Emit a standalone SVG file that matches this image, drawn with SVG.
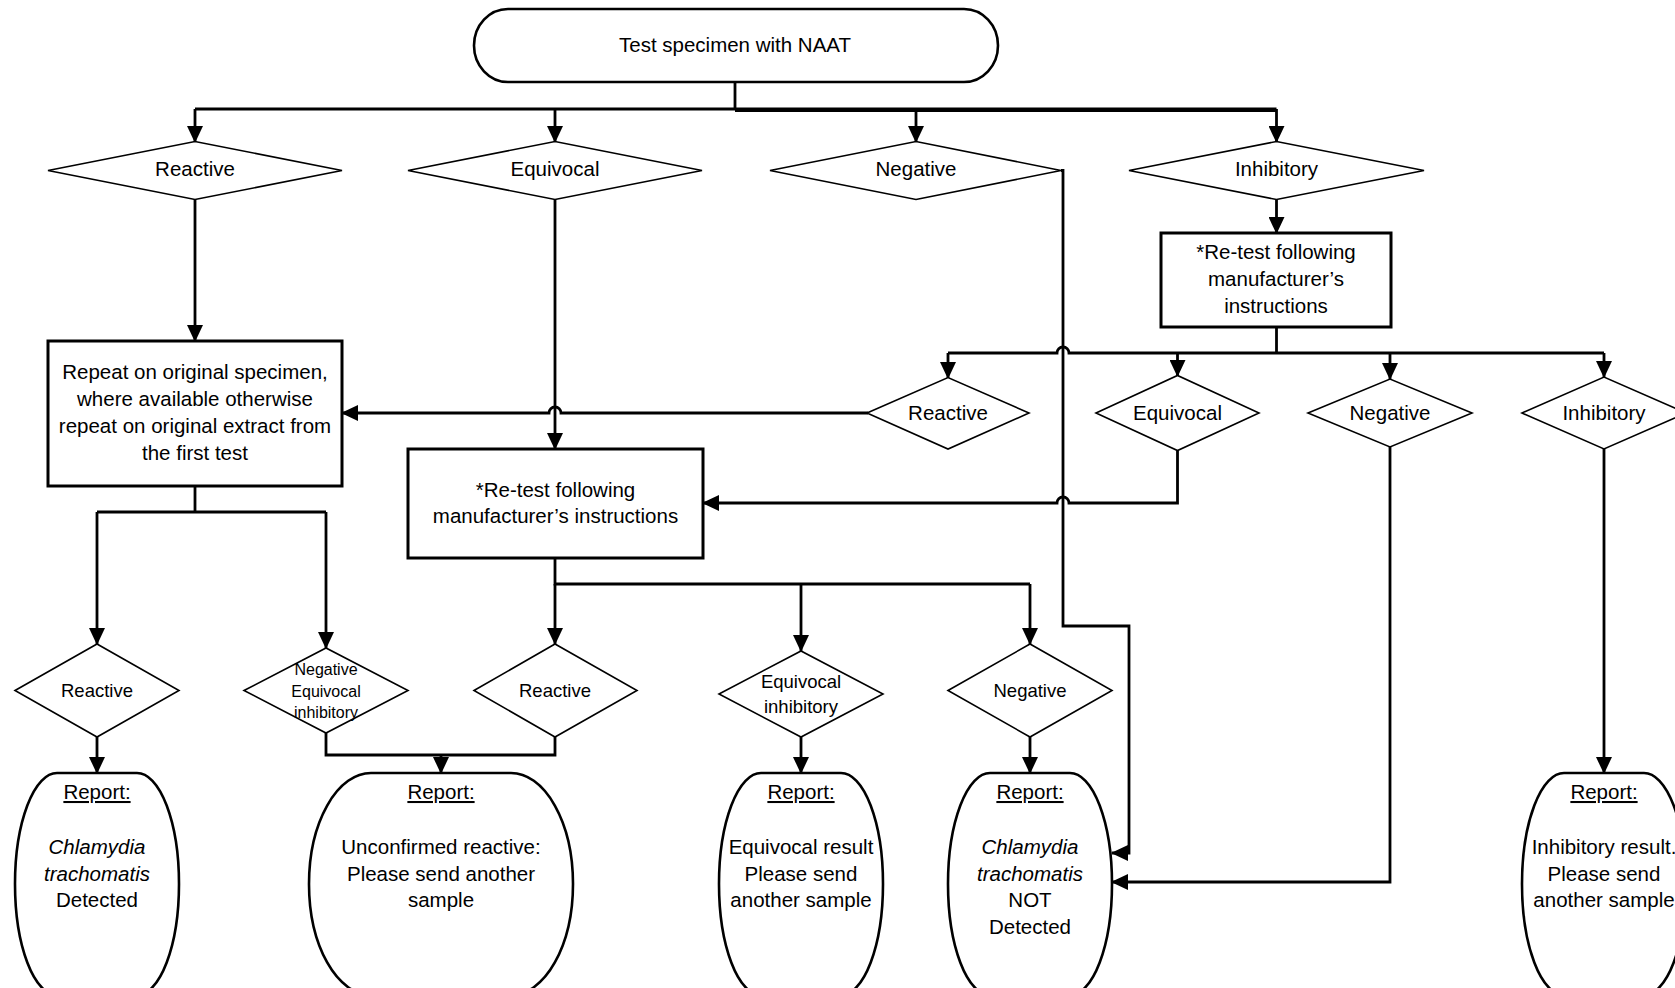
<svg xmlns="http://www.w3.org/2000/svg" width="1675" height="988" viewBox="0 0 1675 988">
<defs>
<style>
.t{font-family:"Liberation Sans",Arial,sans-serif;font-size:20.5px;fill:#000;text-anchor:middle}
.s{font-size:18.5px}
.xs{font-size:16px}
.i{font-style:italic}
.u{text-decoration:underline}
.box{fill:#fff;stroke:#000;stroke-width:3}
.dia{fill:#fff;stroke:#000;stroke-width:1.6}
.rep{fill:#fff;stroke:#000;stroke-width:2.6}
.c{fill:none;stroke:#000;stroke-width:2.8}
.a{marker-end:url(#ah)}
</style>
<marker id="ah" viewBox="0 0 17 16" refX="16" refY="8" markerWidth="17" markerHeight="16" markerUnits="userSpaceOnUse" orient="auto">
<path d="M0,0 L17,8 L0,16 z" fill="#000"/>
</marker>
</defs>
<rect width="1675" height="988" fill="#fff"/>

<g id="connectors">
<path class="c" d="M735,82 V109"/>
<path class="c" d="M195,109 H1276.5"/>
<path class="c" d="M735,110.5 H1276.5"/>
<path class="c a" d="M195,109 V142"/>
<path class="c a" d="M555,109 V142"/>
<path class="c a" d="M916,109 V142"/>
<path class="c a" d="M1276.5,109 V142"/>
<path class="c a" d="M195,199.5 V341"/>
<path class="c a" d="M555,199.5 V449"/>
<path class="c a" d="M1061,170.5 H1063 V626 H1129 V853 H1112"/>
<path class="c a" d="M1276.5,199.5 V233"/>
<path class="c" d="M1276.5,327 V353"/>
<path class="c" d="M948,353 H1057 a6,6 0 0 1 12,0 H1604"/>
<path class="c a" d="M948,353 V378"/>
<path class="c a" d="M1177.5,353 V376"/>
<path class="c a" d="M1390,353 V379"/>
<path class="c a" d="M1604,353 V377"/>
<path class="c a" d="M868,413 H561 a6,6 0 0 0 -12,0 H342"/>
<path class="c a" d="M1177.5,450.5 V503 H1069 a6,6 0 0 0 -12,0 H703"/>
<path class="c a" d="M1390,447 V882 H1112"/>
<path class="c a" d="M1604,449 V773"/>
<path class="c" d="M195,486 V512"/>
<path class="c" d="M97,512 H326"/>
<path class="c a" d="M97,512 V644"/>
<path class="c a" d="M326,512 V648"/>
<path class="c" d="M555,558 V584 H1030"/>
<path class="c a" d="M555,584 V644"/>
<path class="c a" d="M801,584 V651"/>
<path class="c a" d="M1030,584 V644"/>
<path class="c a" d="M97,737 V773"/>
<path class="c" d="M326,733 V755 H555 V737"/>
<path class="c a" d="M441,755 V773"/>
<path class="c a" d="M801,737 V773"/>
<path class="c a" d="M1030,737 V773"/>
</g>

<g id="start">
<rect x="474" y="9" width="524" height="73" rx="34" ry="36.5" fill="#fff" stroke="#000" stroke-width="2.6"/>
<text class="t" x="735" y="52">Test specimen with NAAT</text>
</g>

<g id="d-reactive1">
<polygon class="dia" points="48,170.5 195,141.5 342,170.5 195,199.5"/>
<text class="t" x="195" y="175.5">Reactive</text>
</g>
<g id="d-equivocal1">
<polygon class="dia" points="408,170.5 555,141.5 702,170.5 555,199.5"/>
<text class="t" x="555" y="175.5">Equivocal</text>
</g>
<g id="d-negative1">
<polygon class="dia" points="770,170.5 916,141.5 1061,170.5 916,199.5"/>
<text class="t" x="916" y="175.5">Negative</text>
</g>
<g id="d-inhibitory1">
<polygon class="dia" points="1129,170.5 1276.5,141.5 1424,170.5 1276.5,199.5"/>
<text class="t" x="1276.5" y="175.5">Inhibitory</text>
</g>

<g id="b-retest-right">
<rect class="box" x="1161" y="233" width="230" height="94"/>
<text class="t" x="1276" y="259">*Re-test following</text>
<text class="t" x="1276" y="286">manufacturer’s</text>
<text class="t" x="1276" y="312.5">instructions</text>
</g>

<g id="b-repeat">
<rect class="box" x="48" y="341" width="294" height="145"/>
<text class="t" x="195" y="379">Repeat on original specimen,</text>
<text class="t" x="195" y="406">where available otherwise</text>
<text class="t" x="195" y="433">repeat on original extract from</text>
<text class="t" x="195" y="460">the first test</text>
</g>

<g id="d-reactive2">
<polygon class="dia" points="867,413 948,377.5 1029,413 948,449"/>
<text class="t" x="948" y="420">Reactive</text>
</g>
<g id="d-equivocal2">
<polygon class="dia" points="1096,413 1177.5,375.5 1259,413 1177.5,450.5"/>
<text class="t" x="1177.5" y="420">Equivocal</text>
</g>
<g id="d-negative2">
<polygon class="dia" points="1308,413 1390,379 1472,413 1390,447"/>
<text class="t" x="1390" y="420">Negative</text>
</g>
<g id="d-inhibitory2">
<polygon class="dia" points="1522,413 1604,377 1686,413 1604,449"/>
<text class="t" x="1604" y="420">Inhibitory</text>
</g>

<g id="b-retest-mid">
<rect class="box" x="408" y="449" width="295" height="109"/>
<text class="t" x="555.5" y="497">*Re-test following</text>
<text class="t" x="555.5" y="523">manufacturer’s instructions</text>
</g>

<g id="d-reactive3">
<polygon class="dia" points="15,690.5 97,644 179,690.5 97,737"/>
<text class="t s" x="97" y="697">Reactive</text>
</g>
<g id="d-nei">
<polygon class="dia" points="244,690.5 326,648 408,690.5 326,733"/>
<text class="t xs" x="326" y="675">Negative</text>
<text class="t xs" x="326" y="696.5">Equivocal</text>
<text class="t xs" x="326" y="718">inhibitory</text>
</g>
<g id="d-reactive4">
<polygon class="dia" points="474,690.5 555,644 637,690.5 555,737"/>
<text class="t s" x="555" y="697">Reactive</text>
</g>
<g id="d-eqinh">
<polygon class="dia" points="719,694 801,651 883,694 801,737"/>
<text class="t s" x="801" y="688">Equivocal</text>
<text class="t s" x="801" y="713">inhibitory</text>
</g>
<g id="d-negative3">
<polygon class="dia" points="948,690.5 1030,644 1112,690.5 1030,737"/>
<text class="t s" x="1030" y="697">Negative</text>
</g>

<g id="r-detected">
<rect class="rep" x="15" y="773" width="164" height="222" rx="42" ry="111"/>
<text class="t u" x="97" y="799">Report:</text>
<text class="t i" x="97" y="854">Chlamydia</text>
<text class="t i" x="97" y="880.5">trachomatis</text>
<text class="t" x="97" y="907">Detected</text>
</g>
<g id="r-unconfirmed">
<rect class="rep" x="309" y="773" width="264" height="222" rx="62" ry="111"/>
<text class="t u" x="441" y="799">Report:</text>
<text class="t" x="441" y="854">Unconfirmed reactive:</text>
<text class="t" x="441" y="880.5">Please send another</text>
<text class="t" x="441" y="907">sample</text>
</g>
<g id="r-equivocal">
<rect class="rep" x="719" y="773" width="164" height="222" rx="42" ry="111"/>
<text class="t u" x="801" y="799">Report:</text>
<text class="t" x="801" y="854">Equivocal result</text>
<text class="t" x="801" y="880.5">Please send</text>
<text class="t" x="801" y="907">another sample</text>
</g>
<g id="r-notdetected">
<rect class="rep" x="948" y="773" width="164" height="222" rx="42" ry="111"/>
<text class="t u" x="1030" y="799">Report:</text>
<text class="t i" x="1030" y="854">Chlamydia</text>
<text class="t i" x="1030" y="880.5">trachomatis</text>
<text class="t" x="1030" y="907">NOT</text>
<text class="t" x="1030" y="934">Detected</text>
</g>
<g id="r-inhibitory">
<rect class="rep" x="1522" y="773" width="164" height="222" rx="42" ry="111"/>
<text class="t u" x="1604" y="799">Report:</text>
<text class="t" x="1604" y="854">Inhibitory result.</text>
<text class="t" x="1604" y="880.5">Please send</text>
<text class="t" x="1604" y="907">another sample</text>
</g>
</svg>
